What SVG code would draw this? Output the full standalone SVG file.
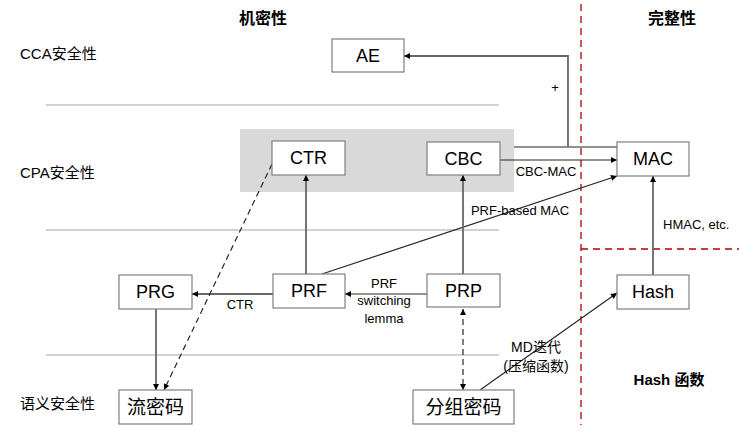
<svg xmlns="http://www.w3.org/2000/svg" width="739" height="445" viewBox="0 0 739 445">
<style>
text{font-family:"Liberation Sans","Noto Sans CJK SC",sans-serif;fill:#000}
.box{fill:#fff;stroke:#7f7f7f;stroke-width:1.2}
.bt{font-size:18px;text-anchor:middle}
.ct{font-size:19px;text-anchor:middle}
.lbl{font-size:13px;text-anchor:middle}
.side{font-size:15px}
.title{font-size:16px;font-weight:bold;text-anchor:middle}
.sep{stroke:#a6a6a6;stroke-width:1.2}
.red{stroke:#b00000;stroke-width:1.3;stroke-dasharray:7,5;fill:none}
.c{stroke:#262626;stroke-width:1.2;fill:none}
.g{stroke:#666;stroke-width:1.8;fill:none}
.d{stroke:#262626;stroke-width:1.2;fill:none;stroke-dasharray:6,4}
</style>
<defs>
<marker id="ah" viewBox="0 0 10 10" refX="10" refY="5" markerWidth="7" markerHeight="6" markerUnits="userSpaceOnUse" orient="auto-start-reverse">
<path d="M0,0 L10,5 L0,10 z" fill="#000"/>
</marker>
</defs>
<rect x="0" y="0" width="739" height="445" fill="#fff"/>
<g id="background">
<rect x="240" y="129" width="274" height="63" fill="#d9d9d9"/>
<line class="sep" x1="46" y1="105" x2="499" y2="105"/>
<line class="sep" x1="46" y1="230" x2="499" y2="230"/>
<line class="sep" x1="46" y1="355" x2="499" y2="355"/>
<line class="red" x1="581" y1="4" x2="581" y2="425"/>
<line class="red" x1="581" y1="249" x2="739" y2="249"/>
<text class="title" x="263" y="24">机密性</text>
<text class="title" x="672" y="24">完整性</text>
<text class="side" x="20" y="59">CCA安全性</text>
<text class="side" x="20" y="178">CPA安全性</text>
<text class="side" x="20" y="409">语义安全性</text>
<text x="669" y="385" style="font-size:15px;font-weight:bold;text-anchor:middle">Hash 函数</text>
</g>
<g id="connectors">
<polyline class="c" points="514,147 617,147"/>
<polyline class="g" points="568,147 568,56 404,56" marker-end="url(#ah)"/>
<text class="lbl" x="555" y="92">+</text>
<line class="c" x1="500" y1="160" x2="617" y2="160" marker-end="url(#ah)"/>
<text class="lbl" x="546" y="176">CBC-MAC</text>
<line class="c" x1="322" y1="274" x2="617" y2="176" marker-end="url(#ah)"/>
<text class="lbl" x="520" y="215">PRF-based MAC</text>
<line class="g" x1="463" y1="274" x2="463" y2="175" marker-end="url(#ah)"/>
<line class="g" x1="306" y1="274" x2="306" y2="175" marker-end="url(#ah)"/>
<line class="g" x1="273" y1="294" x2="192" y2="294" marker-end="url(#ah)"/>
<text class="lbl" x="240" y="309">CTR</text>
<line class="c" x1="427" y1="294" x2="345" y2="294" marker-end="url(#ah)"/>
<text class="lbl" x="384" y="288">PRF</text>
<text class="lbl" x="384" y="305">switching</text>
<text class="lbl" x="384" y="323">lemma</text>
<line class="g" x1="156" y1="309" x2="156" y2="390" marker-end="url(#ah)"/>
<line class="d" x1="272" y1="164" x2="164" y2="390" marker-end="url(#ah)"/>
<line class="d" x1="463" y1="309" x2="463" y2="390" marker-start="url(#ah)" marker-end="url(#ah)"/>
<line class="c" x1="480" y1="390" x2="617" y2="293" marker-end="url(#ah)"/>
<text class="lbl" x="536" y="352" style="font-size:14px">MD迭代</text>
<text class="lbl" x="536" y="371" style="font-size:14px">(压缩函数)</text>
<line class="g" x1="653" y1="275" x2="653" y2="176" marker-end="url(#ah)"/>
<text class="lbl" x="663" y="229" style="text-anchor:start">HMAC, etc.</text>
</g>
<g id="AE"><rect class="box" x="332" y="39" width="72" height="33"/><text class="bt" x="368" y="62">AE</text></g>
<g id="CTR"><rect class="box" x="272" y="141" width="73" height="34"/><text class="bt" x="308.5" y="164">CTR</text></g>
<g id="CBC"><rect class="box" x="427" y="142" width="73" height="33"/><text class="bt" x="463.5" y="165">CBC</text></g>
<g id="MAC"><rect class="box" x="617" y="142" width="72" height="34"/><text class="bt" x="653" y="165">MAC</text></g>
<g id="PRG"><rect class="box" x="119" y="275" width="73" height="34"/><text class="bt" x="155.5" y="298">PRG</text></g>
<g id="PRF"><rect class="box" x="273" y="274" width="72" height="34"/><text class="bt" x="309" y="297">PRF</text></g>
<g id="PRP"><rect class="box" x="427" y="274" width="73" height="33"/><text class="bt" x="463.5" y="297">PRP</text></g>
<g id="Hash"><rect class="box" x="617" y="275" width="72" height="34"/><text class="bt" x="653" y="298">Hash</text></g>
<g id="stream"><rect class="box" x="119" y="390" width="73" height="34"/><text class="ct" x="155.5" y="414">流密码</text></g>
<g id="block"><rect class="box" x="413" y="390" width="101" height="34"/><text class="ct" x="463.5" y="414">分组密码</text></g>
</svg>
